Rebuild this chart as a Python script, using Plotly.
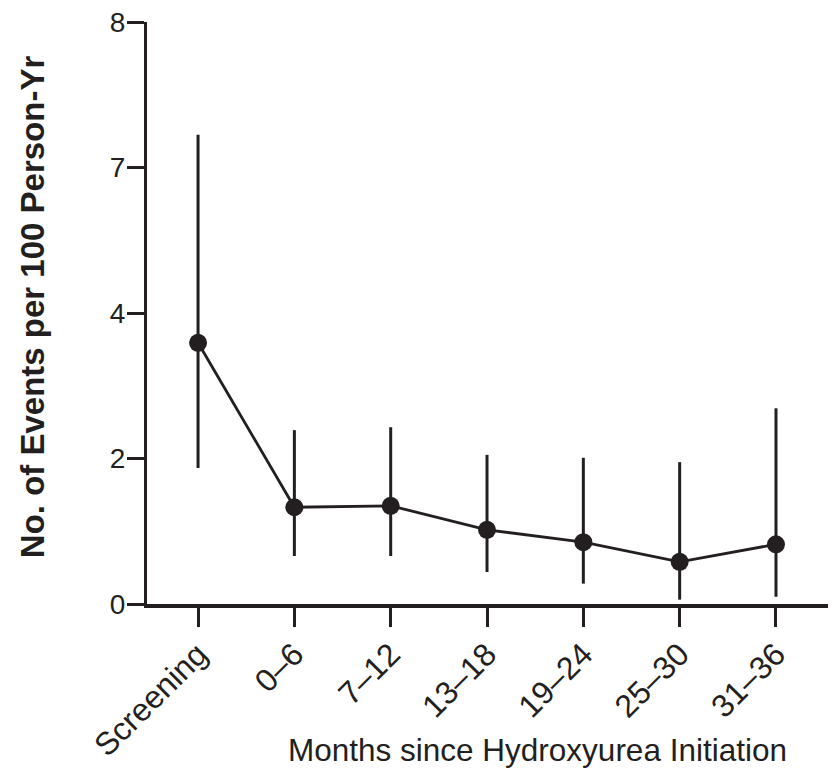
import plotly.graph_objects as go

categories = ["Screening", "0–6", "7–12", "13–18", "19–24", "25–30", "31–36"]
rates = [3.59, 1.33, 1.35, 1.02, 0.85, 0.58, 0.82]
ci_upper = [6.45, 2.39, 2.43, 2.05, 2.01, 1.95, 2.69]
ci_lower = [1.87, 0.66, 0.66, 0.44, 0.28, 0.06, 0.10]
ytick_vals = [0, 2, 4, 6, 8]
ytick_text = ["0", "2", "4", "7", "8"]

ink = "#231f20"
font_family = "Liberation Sans, Arial, sans-serif"

x_idx = list(range(len(categories)))
err_plus = [u - r for u, r in zip(ci_upper, rates)]
err_minus = [r - l for r, l in zip(rates, ci_lower)]

fig = go.Figure()
fig.add_trace(go.Scatter(
    x=x_idx, y=rates,
    mode="lines+markers",
    line=dict(color=ink, width=2.8),
    marker=dict(color=ink, size=18),
    error_y=dict(type="data", symmetric=False, array=err_plus, arrayminus=err_minus,
                 color=ink, thickness=3, width=0),
    cliponaxis=False,
    showlegend=False,
))

fig.update_layout(
    width=833, height=771,
    margin=dict(l=147, r=5, t=22, b=167),
    paper_bgcolor="white", plot_bgcolor="white",
    font=dict(family=font_family, color=ink, size=30),
    xaxis=dict(
        range=[-0.53, 6.54],
        tickvals=x_idx, ticktext=categories, tickangle=-45,
        showline=True, linecolor=ink, linewidth=3.5,
        ticks="outside", ticklen=19, tickwidth=3, tickcolor=ink,
        showgrid=False, zeroline=False,
        ticklabelstandoff=-4,
        tickfont=dict(size=32, family=font_family, color=ink),
    ),
    yaxis=dict(
        range=[0, 8],
        tickvals=ytick_vals, ticktext=ytick_text,
        showline=True, linecolor=ink, linewidth=3,
        ticks="outside", ticklen=17, tickwidth=3, tickcolor=ink,
        showgrid=False, zeroline=False,
        ticklabelstandoff=-4,
        tickfont=dict(size=28, family=font_family, color=ink),
    ),
    annotations=[
        dict(text="Months since Hydroxyurea Initiation", xref="paper", yref="paper",
             x=0.573, y=0, yshift=-146, xanchor="center", yanchor="middle",
             showarrow=False, font=dict(size=31.5, family=font_family, color=ink)),
        dict(text="<b>No. of Events per 100 Person-Yr</b>", xref="paper", yref="paper",
             x=0, y=0.51, xshift=-115, xanchor="center", yanchor="middle", textangle=-90,
             showarrow=False, font=dict(size=33, family=font_family, color=ink)),
    ],
)

fig.write_html("out.html")
